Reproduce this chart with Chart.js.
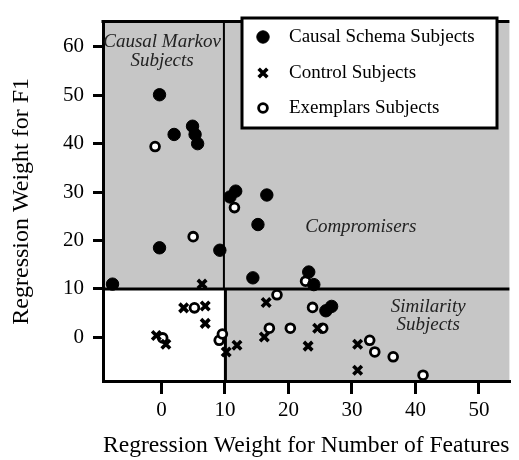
<!DOCTYPE html>
<html>
<head>
<meta charset="utf-8">
<script src="https://cdn.jsdelivr.net/npm/chart.js@4.4.1/dist/chart.umd.min.js"></script>
<style>
  html, body { margin: 0; padding: 0; background: #fff; }
</style>
</head>
<body>
<canvas id="weights-chart" width="519" height="460"></canvas>
<script>
// values
const causalX = [-0.3, 2.0, 4.9, 5.3, 5.7, -0.3, 9.2, -7.7, 11.7, 10.8, 16.6, 15.2, 14.4, 23.2, 24.0, 25.9, 26.8];
const causalY = [50.1, 41.9, 43.6, 41.9, 40.0, 18.5, 18.0, 11.0, 30.2, 29.0, 29.4, 23.3, 12.3, 13.5, 10.9, 5.5, 6.4];

const controlX = [6.4, 3.5, 6.9, 6.9, -0.8, 0.7, 10.2, 11.9, 16.5, 16.2, 24.6, 23.1, 30.9, 30.9];
const controlY = [11.0, 6.1, 6.5, 2.9, 0.4, -1.4, -3.0, -1.6, 7.2, 0.1, 1.9, -1.8, -1.4, -6.8];

const exemplarX = [-1.0, 5.0, 11.5, 22.7, 18.2, 23.8, 20.3, 25.4, 17.0, 32.8, 33.6, 36.5, 41.2, 5.2, 0.2, 9.1, 9.6];
const exemplarY = [39.4, 20.8, 26.8, 11.6, 8.8, 6.2, 1.9, 1.9, 1.9, -0.6, -3.0, -4.0, -7.8, 6.1, -0.1, -0.6, 0.7];

const seriesNames = ["Causal Schema Subjects", "Control Subjects", "Exemplars Subjects"];
const xTicks = [0, 10, 20, 30, 40, 50];
const yTicks = [0, 10, 20, 30, 40, 50, 60];
const cutoff = 10;

const serif = "'Liberation Serif', 'Times New Roman', serif";

const toPoints = (xs, ys) => xs.map((x, i) => ({ x: x, y: ys[i] }));

// ========================== background regions ======================
const regions = {
  id: "regions",
  beforeDraw(chart) {
    const { ctx, chartArea: a, scales } = chart;
    const bx = scales.x.getPixelForValue(cutoff);
    const by = scales.y.getPixelForValue(cutoff);
    ctx.save();
    ctx.fillStyle = "#c6c6c6";
    ctx.fillRect(a.left, a.top, a.right - a.left, a.bottom - a.top);
    ctx.fillStyle = "#fff";
    ctx.fillRect(a.left, by, bx - a.left, a.bottom - by);
    ctx.restore();
  },
  beforeDatasetsDraw(chart) {
    const { ctx, chartArea: a, scales } = chart;
    const bx = scales.x.getPixelForValue(cutoff);
    const by = scales.y.getPixelForValue(cutoff);
    ctx.save();
    ctx.strokeStyle = "#000";
    // upper divider
    ctx.lineWidth = 2;
    ctx.beginPath();
    ctx.moveTo(bx - 1, a.top);
    ctx.lineTo(bx - 1, by);
    ctx.stroke();
    // lower box + horizontal divider
    ctx.lineWidth = 3;
    ctx.beginPath();
    ctx.moveTo(a.left, by);
    ctx.lineTo(a.right, by);
    ctx.moveTo(bx + 0.5, by);
    ctx.lineTo(bx + 0.5, a.bottom);
    ctx.stroke();
    // top frame
    ctx.beginPath();
    ctx.moveTo(a.left - 1.5, a.top);
    ctx.lineTo(a.right, a.top);
    ctx.stroke();
    ctx.restore();
  },
  afterDatasetsDraw(chart) {
    const { ctx, scales } = chart;
    const px = (v) => scales.x.getPixelForValue(v);
    const py = (v) => scales.y.getPixelForValue(v);
    ctx.save();
    ctx.fillStyle = "#222";
    ctx.font = "italic 19px " + serif;
    ctx.textAlign = "center";
    ctx.textBaseline = "middle";
    ctx.fillText("Causal Markov", px(0.1), py(61.0));
    ctx.fillText("Subjects", px(0.1), py(57.1));
    ctx.fillText("Compromisers", px(31.4), py(22.8));
    ctx.fillText("Similarity", px(42.0), py(6.2));
    ctx.fillText("Subjects", px(42.0), py(2.6));
    ctx.restore();
  },
};

// ========================== boxed legend ======================
const boxLegend = {
  id: "boxLegend",
  afterDatasetsDraw(chart) {
    const ctx = chart.ctx;
    const left = 242, top = 18, width = 255, height = 110;
    ctx.save();
    ctx.fillStyle = "#fff";
    ctx.fillRect(left, top, width, height);
    ctx.strokeStyle = "#000";
    ctx.lineWidth = 3;
    ctx.strokeRect(left, top, width, height);

    const rows = [37, 73, 108];
    const mx = 263;
    chart.data.datasets.forEach((ds, i) => {
      const y = rows[i];
      ctx.strokeStyle = "#000";
      if (ds.pointStyle === "crossRot") {
        ctx.lineWidth = ds.borderWidth;
        const r = ds.pointRadius * 0.72;
        ctx.beginPath();
        ctx.moveTo(mx - r, y - r);
        ctx.lineTo(mx + r, y + r);
        ctx.moveTo(mx - r, y + r);
        ctx.lineTo(mx + r, y - r);
        ctx.stroke();
      } else {
        ctx.lineWidth = ds.borderWidth;
        ctx.fillStyle = ds.backgroundColor;
        ctx.beginPath();
        ctx.arc(mx, y, ds.pointRadius, 0, Math.PI * 2);
        ctx.fill();
        ctx.stroke();
      }
      ctx.fillStyle = "#000";
      ctx.font = "19px " + serif;
      ctx.textAlign = "left";
      ctx.textBaseline = "middle";
      ctx.fillText(ds.label, 289, y);
    });
    ctx.restore();
  },
};

const canvas = document.getElementById("weights-chart");
const chart = new Chart(canvas, {
  type: "scatter",
  data: {
    datasets: [
      {
        label: seriesNames[0],
        data: toPoints(causalX, causalY),
        pointStyle: "circle",
        pointRadius: 6.2,
        borderWidth: 1,
        backgroundColor: "#000",
        borderColor: "#000",
      },
      {
        label: seriesNames[1],
        data: toPoints(controlX, controlY),
        pointStyle: "crossRot",
        pointRadius: 6,
        borderWidth: 3.6,
        backgroundColor: "#000",
        borderColor: "#000",
      },
      {
        label: seriesNames[2],
        data: toPoints(exemplarX, exemplarY),
        pointStyle: "circle",
        pointRadius: 4.4,
        borderWidth: 2.8,
        backgroundColor: "#fff",
        borderColor: "#000",
      },
    ],
  },
  options: {
    responsive: false,
    animation: false,
    layout: { padding: { top: 11, right: 0, bottom: 0, left: 0 } },
    plugins: {
      legend: { display: false },
      tooltip: { enabled: false },
    },
    scales: {
      x: {
        type: "linear",
        min: -9.2,
        max: 54.8,
        afterBuildTicks: (s) => { s.ticks = xTicks.map((v) => ({ value: v })); },
        afterFit: (s) => { s.height = 79; },
        ticks: { color: "#000", font: { family: serif, size: 21 }, padding: 4, maxRotation: 0 },
        grid: { drawOnChartArea: false, drawTicks: true, tickLength: 13, color: "#000", lineWidth: 3 },
        border: { display: true, color: "#000", width: 3 },
        title: {
          display: true,
          text: "Regression Weight for Number of Features",
          color: "#000",
          font: { family: serif, size: 24 },
          padding: { top: 0, bottom: 0 },
        },
      },
      y: {
        type: "linear",
        min: -9.0,
        max: 65.2,
        afterBuildTicks: (s) => { s.ticks = yTicks.map((v) => ({ value: v })); },
        afterFit: (s) => { s.width = 103; },
        ticks: { color: "#000", font: { family: serif, size: 21 }, padding: 9 },
        grid: { drawOnChartArea: false, drawTicks: true, tickLength: 10, color: "#000", lineWidth: 3 },
        border: { display: true, color: "#000", width: 3 },
        title: {
          display: true,
          text: "Regression Weight for F1",
          color: "#000",
          font: { family: serif, size: 24 },
          padding: { top: 7, bottom: 0 },
        },
      },
    },
  },
  plugins: [regions, boxLegend],
});
</script>
</body>
</html>
